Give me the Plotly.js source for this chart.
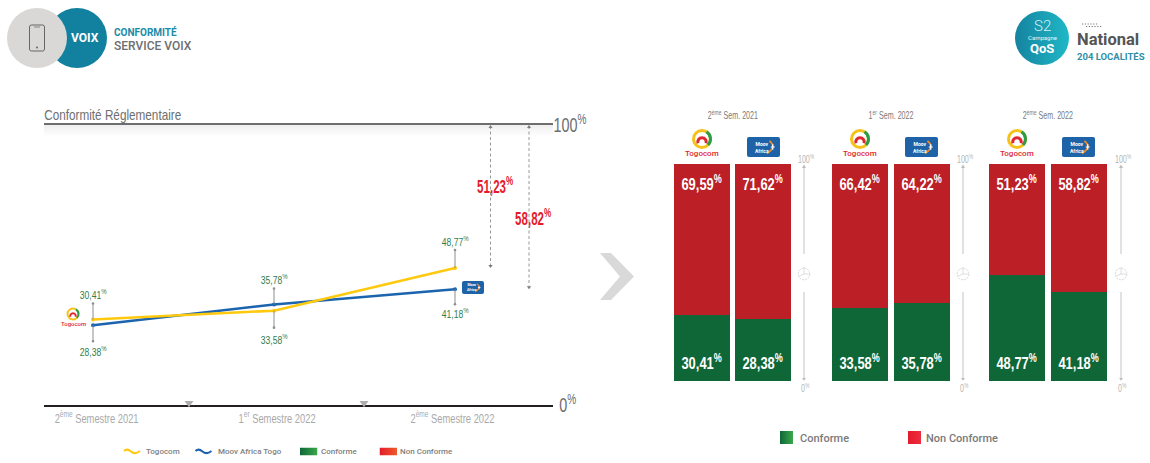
<!DOCTYPE html>
<html><head><meta charset="utf-8">
<script src="https://cdn.plot.ly/plotly-3.0.1.min.js"></script>
<style>html,body{margin:0;padding:0;background:#fff}#c{width:1150px;height:463px}</style>
</head><body><div id="c"></div>
<script>
const W=1150,H=463;
const NARROW='"Liberation Sans",sans-serif';
const DIN='Roboto,sans-serif';

// ---- data ----
const semesterTicks=['2<sup>ème</sup> Semestre 2021','1<sup>er</sup> Semestre 2022','2<sup>ème</sup> Semestre 2022'];
const barTitles=['2<sup>ème</sup> Sem. 2021','1<sup>er</sup> Sem. 2022','2<sup>ème</sup> Sem. 2022'];
const operators=['Togocom','Moov Africa Togo'];
const togocomConforme=[30.41,33.58,48.77];
const moovConforme=[28.38,35.78,41.18];
const togocomNonConforme=[69.59,66.42,51.23];
const moovNonConforme=[71.62,64.22,58.82];

// ---- colours ----
const YEL='#ffc90e',BLU='#1c64ae',RED='#bc2026',GRN='#0f6737',LBL='#2f7d4c',HOT='#e31b2c',TEAL='#12819f',GR='#6d6e70';

// ---- pixel helpers for decoration ----
const fx=p=>p/W, fy=p=>1-p/H;
const Y0=405,Y100=124, yPx=v=>Y0-(Y0-Y100)*v/100;
const pth=(pts,close)=>'M'+pts.map(p=>fx(p[0]).toFixed(5)+','+fy(p[1]).toFixed(5)).join('L')+(close?'Z':'');
const fmt=v=>v.toFixed(2).replace('.',',')+'<sup>%</sup>';

const images=[],shapes=[],ann=[],narrow={};
function addAnn(a,sx){ann.push(a); if(sx) narrow[ann.length-1]=sx;}
function svg(x,y,w,h,inner){
  const s=`<svg xmlns="http://www.w3.org/2000/svg" width="${w}" height="${h}" viewBox="0 0 ${w} ${h}">${inner}</svg>`;
  images.push({source:'data:image/svg+xml;charset=utf-8,'+encodeURIComponent(s),xref:'paper',yref:'paper',x:fx(x),y:fy(y),sizex:w/W,sizey:h/H,xanchor:'left',yanchor:'top',sizing:'stretch',layer:'below'});
}
function txt(x,y,text,size,color,o={}){
  addAnn(Object.assign({xref:'paper',yref:'paper',x:fx(x),y:fy(y),text,showarrow:false,xanchor:'center',yanchor:'middle',
    font:{family:o.family||NARROW,size,color,weight:o.weight||400}},o.a||{}),o.sx);
}
function line(x0,y0,x1,y1,color,width,dash){
  shapes.push({type:'line',xref:'paper',yref:'paper',x0:fx(x0),y0:fy(y0),x1:fx(x1),y1:fy(y1),line:{color,width,dash:dash||'solid'}});
}
function tri(x,y,s,color){
  shapes.push({type:'path',xref:'paper',yref:'paper',path:pth([[x-s,y],[x+s,y],[x,y+s*1.4]],true),fillcolor:color,line:{width:0}});
}
const grad=(id,a,b)=>`<defs><linearGradient id="${id}"><stop offset="0" stop-color="${a}"/><stop offset="1" stop-color="${b}"/></linearGradient></defs>`;

function togocomLogo(cx,cy,r,fs,ty){
  const d=2*r+4;
  svg(cx-d/2,cy-d/2,d,d,`<g transform="translate(${d/2},${d/2})" fill="none">
   <circle r="${r*0.85}" stroke="#f6c21a" stroke-width="${r*0.3}"/>
   <path d="M${r*0.45},${-r*0.72} A${r*0.85},${r*0.85} 0 0 1 ${r*0.6},${r*0.6}" stroke="#2e9b47" stroke-width="${r*0.3}"/>
   <path d="M${-r*0.4},${r*0.42} A${r*0.42},${r*0.42} 0 1 1 ${r*0.4},${r*0.42}" stroke="#e0262e" stroke-width="${r*0.3}"/></g>`);
  txt(cx,ty,'Togocom',fs,'#e0262e',{family:DIN,weight:500});
}
function moovLogo(x,y,w,h,fs){
  svg(x,y,w,h,`<rect width="${w}" height="${h}" rx="2" fill="#1e62a8"/>
   <path d="M${w*0.68},${h*0.2} Q${w*0.92},${h*0.5} ${w*0.6},${h*0.82}" fill="none" stroke="#f28c28" stroke-width="${h*0.09}"/>
   <path d="M${w*0.72},${h*0.5} h${w*0.12} M${w*0.78},${h*0.36} v${h*0.28}" stroke="#fff" stroke-width="${h*0.06}"/>`);
  txt(x+w*0.44,y+h*0.5,'Moov<br>Africa',fs,'#fff',{family:DIN,weight:700});
}

// ---- header ----
svg(0,0,115,76,`<circle cx="77" cy="38" r="30" fill="${TEAL}"/><circle cx="37" cy="38" r="30" fill="#d9d8d6"/>
 <rect x="29.5" y="25" width="15" height="26" rx="2" fill="none" stroke="#666" stroke-width="1"/>
 <circle cx="37" cy="47.5" r="1" fill="#666"/><path d="M34,27 h6" stroke="#666" stroke-width=".7"/>`);
txt(85,38,'VOIX',12,'#fff',{family:DIN,weight:700});
txt(112,31.5,'CONFORMITÉ',10,'#1a8ba8',{family:DIN,weight:700,a:{xanchor:'left'}});
txt(112,46.5,'SERVICE VOIX',12,GR,{family:DIN,weight:500,a:{xanchor:'left'}});
svg(1012,8,60,60,grad('q','#1583a0','#1fb8c6')+`<circle cx="30" cy="30" r="27" fill="url(#q)"/>`);
txt(1042,26,'S2',15,'#d5f0f4',{family:DIN,weight:300});
txt(1042,37,'Campagne',6,'#e4f6f8',{family:DIN});
txt(1042,49,'QoS',13,'#fff',{family:DIN,weight:700});
svg(1080,22,24,6,`<path d="M2,2 h16 M6,4.5 h16" stroke="#777" stroke-width="1" stroke-dasharray="1.2 1.6"/>`);
txt(1074.5,40,'National',16.5,'#555',{family:DIN,weight:700,a:{xanchor:'left'}});
txt(1074.5,57,'204 LOCALITÉS',9.5,'#2f8fa8',{family:DIN,weight:700,a:{xanchor:'left'}});

// ---- left chart furniture ----
txt(112.5,115,'Conformité Réglementaire',14,GR,{sx:.84});
svg(44,125,509,12,`<defs><linearGradient id="s" x2="0" y2="1"><stop offset="0" stop-color="#efefef"/><stop offset="1" stop-color="#fff"/></linearGradient></defs><rect width="509" height="12" fill="url(#s)"/>`);
line(44,124,553,124,GR,2);
txt(570,123,'100<sup>%</sup>',20,GR,{sx:.72});
txt(568,403.5,'0<sup>%</sup>',20,GR,{sx:.72});
tri(189,401,4.5,'#aeaeae'); tri(364,401,4.5,'#aeaeae');

// red gap arrows: top at 100, bottom at 100 - non conforme of last semester
[[490.5,togocomNonConforme[2],494.5,185],[529,moovNonConforme[2],533,217]].forEach(([x,v,lx,ly])=>{
  const yb=yPx(100-v);
  line(x,126,x,yb-3,'#8c8c8c',0.9,'3px,2.5px');
  shapes.push({type:'path',xref:'paper',yref:'paper',path:pth([[x-2,128],[x+2,128],[x,125]],true),fillcolor:'#7d7d7d',line:{width:0}});
  tri(x,yb-3,2.2,'#7d7d7d');
  txt(lx,ly,'<b>'+fmt(v)+'</b>',18,HOT,{sx:.64});
});

// chevron
shapes.push({type:'path',xref:'paper',yref:'paper',path:pth([[600,253],[611,253],[634,276.5],[611,300],[600,300],[620,276.5]],true),fillcolor:'#d9d9d9',line:{width:0}});

togocomLogo(73,314,6.5,6,323);
moovLogo(462,281,22,13,3.5);

// leader lines + labels tied to the data values
function leader(i,v,dy,labelDy){
  shapes.push({type:'line',xref:'x',yref:'y',xsizemode:'scaled',ysizemode:'pixel',yanchor:v,x0:i,x1:i,y0:0,y1:dy,line:{color:'#8e8e8e',width:1}});
  shapes.push({type:'circle',xref:'x',yref:'y',xsizemode:'pixel',ysizemode:'pixel',xanchor:i,yanchor:v,x0:-1.3,x1:1.3,y0:dy-1.3,y1:dy+1.3,fillcolor:'#8e8e8e',line:{width:0}});
  addAnn({xref:'x',yref:'y',x:i,y:v,yshift:labelDy,text:fmt(v),showarrow:false,xanchor:'center',yanchor:'middle',font:{family:NARROW,size:11,color:LBL}},.78);
}
leader(0,togocomConforme[0],16,26);
leader(0,moovConforme[0],-16,-26);
leader(1,moovConforme[1],16,25);
leader(1,togocomConforme[1],-17,-28);
leader(2,togocomConforme[2],18,27);
leader(2,moovConforme[2],-15,-24);

// ---- bars: three groups ----
const groupDom=[[674,791],[832,950],[989,1107]];
const arrowX=[804,963,1121];
const traces=[];
traces.push({type:'scatter',mode:'lines+markers',name:'Moov Africa Togo',x:[0,1,2],y:moovConforme,line:{color:BLU,width:2.5},marker:{color:BLU,size:4},xaxis:'x',yaxis:'y',hoverinfo:'skip'});
traces.push({type:'scatter',mode:'lines+markers',name:'Togocom',x:[0,1,2],y:togocomConforme,line:{color:YEL,width:2.5},marker:{color:YEL,size:4},xaxis:'x',yaxis:'y',hoverinfo:'skip'});

const layout={width:W,height:H,margin:{l:0,r:0,t:0,b:0},paper_bgcolor:'#fff',plot_bgcolor:'rgba(0,0,0,0)',showlegend:false,barmode:'stack',bargap:0.082,
 xaxis:{domain:[fx(44),fx(553)],range:[(44-93)/181,(553-93)/181],type:'linear',tickmode:'array',tickvals:[0.02,1.017,1.986],ticktext:semesterTicks,
   tickfont:{family:NARROW,size:13,color:'#a9a9a9'},ticks:'',showgrid:false,zeroline:false,showline:true,linecolor:'#231f20',linewidth:2,anchor:'y',fixedrange:true},
 yaxis:{domain:[1-Y0/H,1-Y100/H],range:[0,100],visible:false,anchor:'x',fixedrange:true},
 yaxis2:{domain:[1-381/H,1-164/H],range:[0,100],visible:false,anchor:'x2',fixedrange:true}};

groupDom.forEach((d,g)=>{
  const xn='x'+(g+2), xk='xaxis'+(g+2);
  layout[xk]={domain:[fx(d[0]),fx(d[1])],type:'category',range:[-0.459,1.459],visible:false,anchor:'y2',fixedrange:true};
  const c=[togocomConforme[g],moovConforme[g]], n=[togocomNonConforme[g],moovNonConforme[g]];
  traces.push({type:'bar',name:'Conforme',x:operators,y:c,marker:{color:GRN},xaxis:xn,yaxis:'y2',hoverinfo:'skip'});
  traces.push({type:'bar',name:'Non Conforme',x:operators,y:n,marker:{color:RED},xaxis:xn,yaxis:'y2',hoverinfo:'skip'});
  operators.forEach((o,i)=>{
    addAnn({xref:xn,yref:'y2',x:o,y:100,yshift:-19,text:'<b>'+fmt(n[i])+'</b>',showarrow:false,font:{family:NARROW,size:17,color:'#fff'}},.76);
    addAnn({xref:xn,yref:'y2',x:o,y:0,yshift:19,text:'<b>'+fmt(c[i])+'</b>',showarrow:false,font:{family:NARROW,size:17,color:'#fff'}},.76);
  });
  const mid=(d[0]+d[1])/2;
  txt(mid,114,barTitles[g],10.5,'#7a7a7a',{sx:.68});
  togocomLogo(d[0]+28,139,10,8,154);
  moovLogo(d[0]+73,137,33,20,5);
  const ax=arrowX[g];
  txt(ax+2,158,'100<sup>%</sup>',10.5,'#b5b5b5',{sx:.68});
  txt(ax+1,387,'0<sup>%</sup>',10.5,'#b5b5b5',{sx:.68});
  line(ax,168,ax,254,'#c4c4c4',1);
  line(ax,292,ax,378,'#c4c4c4',1);
  shapes.push({type:'path',xref:'paper',yref:'paper',path:pth([[ax-2,168],[ax+2,168],[ax,164.5]],true),fillcolor:'#bcbcbc',line:{width:0}});
  tri(ax,378,2,'#bcbcbc');
  svg(ax-8,266,16,16,`<circle cx="8" cy="8" r="5.8" fill="none" stroke="#d6d6d6" stroke-width="1" stroke-dasharray="2 1"/><path d="M8,8 V1 M8,8 H13 M8,8 L3,10" stroke="#d6d6d6" stroke-width=".8"/>`);
});

// ---- custom legends ----
const wave=c=>`<path d="M1,3 Q4,0 8,3.5 T17,3" fill="none" stroke="${c}" stroke-width="2"/>`;
const lg={family:DIN,weight:500,a:{xanchor:'left'}};
svg(123,448,18,7,wave(YEL)); txt(144,451.5,'Togocom',8,'#808080',lg);
svg(194.5,448,18,7,wave(BLU)); txt(215.5,451.5,'Moov Africa Togo',8,'#808080',lg);
svg(300,447.5,17.5,8,grad('g1','#0f6737','#39a94a')+`<rect width="17.5" height="8" fill="url(#g1)"/>`);
txt(319,451.5,'Conforme',8,'#808080',lg);
svg(379.5,447.5,17.5,8,grad('r1','#e31b2c','#ef5a28')+`<rect width="17.5" height="8" fill="url(#r1)"/>`);
txt(398,451.5,'Non Conforme',8,'#808080',lg);
svg(780,431,13,13,grad('g2','#0f6737','#39a94a')+`<rect width="13" height="13" fill="url(#g2)"/>`);
txt(798,438,'Conforme',11,'#7a7a7a',lg);
svg(908,431,13,13,grad('r2','#e31b2c','#ee2d3e')+`<rect width="13" height="13" fill="url(#r2)"/>`);
txt(924,438,'Non Conforme',11,'#7a7a7a',lg);

layout.images=images; layout.shapes=shapes; layout.annotations=ann;

// condense text drawn in the wide fallback font (no condensed face is installed)
function condense(el,sx){
  const b=el.getBBox(), c=b.x+b.width/2, prev=el.getAttribute('transform')||'';
  el.setAttribute('transform',`${prev} translate(${c} 0) scale(${sx} 1) translate(${-c} 0)`);
}
Plotly.newPlot('c',traces,layout,{displayModeBar:false,staticPlot:true}).then(gd=>{
  Object.keys(narrow).forEach(i=>{
    const t=gd.querySelector(`.annotation[data-index="${i}"] .annotation-text`);
    if(t) condense(t,narrow[i]);
  });
  gd.querySelectorAll('.xtick text').forEach(t=>condense(t,.72));
});
</script></body></html>
